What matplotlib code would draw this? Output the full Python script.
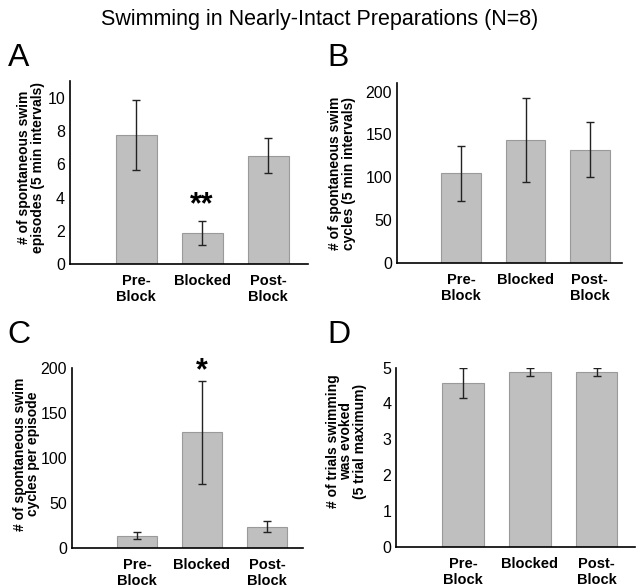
import numpy as np
import matplotlib
matplotlib.use("Agg")
import matplotlib.pyplot as plt

plt.rcParams['font.family'] = ['Liberation Sans', 'DejaVu Sans']

# ------------ data ------------
categories = ["Pre-\nBlock", "Blocked", "Post-\nBlock"]

episodes = [7.75, 1.85, 6.5]          # A
episodes_err = [2.1, 0.73, 1.05]

cycles = [105, 144, 132.5]            # B
cycles_err = [32, 49, 31.5]

cycles_per_ep = [13.7, 128, 23.8]     # C
cycles_per_ep_err = [4.2, 57, 6]

trials = [4.56, 4.87, 4.87]           # D
trials_err = [0.42, 0.12, 0.12]

ylabels = [
    "# of spontaneous swim\nepisodes (5 min intervals)",
    "# of spontaneous swim\ncycles (5 min intervals)",
    "# of spontaneous swim\ncycles per episode",
    "# of trials swimming\nwas evoked\n(5 trial maximum)",
]
# --------------------------------------------------

BAR_COLOR = "#bfbfbf"
EDGE_COLOR = "#9a9a9a"

fig = plt.figure(figsize=(6.36, 5.88), dpi=100)

# axes rectangles [left, bottom, width, height] in figure fractions
rects = [
    [0.110, 0.551, 0.374, 0.311],
    [0.624, 0.552, 0.354, 0.307],
    [0.113, 0.068, 0.363, 0.307],
    [0.623, 0.069, 0.375, 0.306],
]
xlims = [(0, 3.6), (0, 3.5), (0, 3.55), (0, 3.57)]
ylims = [(0, 11), (0, 210), (0, 200), (0, 5)]
yticks = [np.arange(0, 11, 2), np.arange(0, 201, 50), np.arange(0, 201, 50), np.arange(0, 6, 1)]
label_x = [-0.164, -0.244, -0.196, -0.209]
label_y = [0.53, 0.5, 0.52, 0.59]

data = [(episodes, episodes_err), (cycles, cycles_err),
        (cycles_per_ep, cycles_per_ep_err), (trials, trials_err)]

axes = []
x = np.arange(1, len(categories) + 1)
for i, (vals, errs) in enumerate(data):
    ax = fig.add_axes(rects[i])
    ax.bar(x, vals, width=0.62, color=BAR_COLOR, edgecolor=EDGE_COLOR, linewidth=0.8,
           yerr=errs, error_kw=dict(ecolor="#222222", elinewidth=1.0, capsize=3, capthick=1.0))
    ax.set_xlim(*xlims[i])
    ax.set_ylim(*ylims[i])
    ax.set_yticks(yticks[i])
    ax.set_xticks(x)
    ax.set_xticklabels(categories, fontweight="bold", fontsize=10.5, linespacing=1.2)
    ax.tick_params(axis="both", length=0, labelsize=11.5)
    ax.tick_params(axis="x", pad=7)
    ax.tick_params(axis="y", pad=3.5)
    for lab in ax.get_xticklabels():
        lab.set_fontsize(10.5)
    for s in ["top", "right"]:
        ax.spines[s].set_visible(False)
    for s in ["left", "bottom"]:
        ax.spines[s].set_linewidth(1.2)
    ax.set_ylabel(ylabels[i], fontweight="bold", fontsize=10, linespacing=0.95,
                  ha="center", va="center")
    ax.yaxis.set_label_coords(label_x[i], label_y[i])
    axes.append(ax)

# significance marks
axes[0].text(2, episodes[1] + episodes_err[1] + 0.93, "**", ha="center", va="center",
             fontsize=22, fontweight="bold")
axes[2].text(2, 196, "*", ha="center", va="center", fontsize=22, fontweight="bold",
             clip_on=False)

fig.text(0.502, 0.966, "Swimming in Nearly-Intact Preparations (N=8)", ha="center",
         va="center", fontsize=15.5)
for lab, (px, py) in zip("ABCD", [(0.012, 0.888), (0.514, 0.888), (0.012, 0.417), (0.514, 0.417)]):
    fig.text(px, py, lab, fontsize=23, ha="left", va="baseline")

fig.savefig("out.png", dpi=100)
